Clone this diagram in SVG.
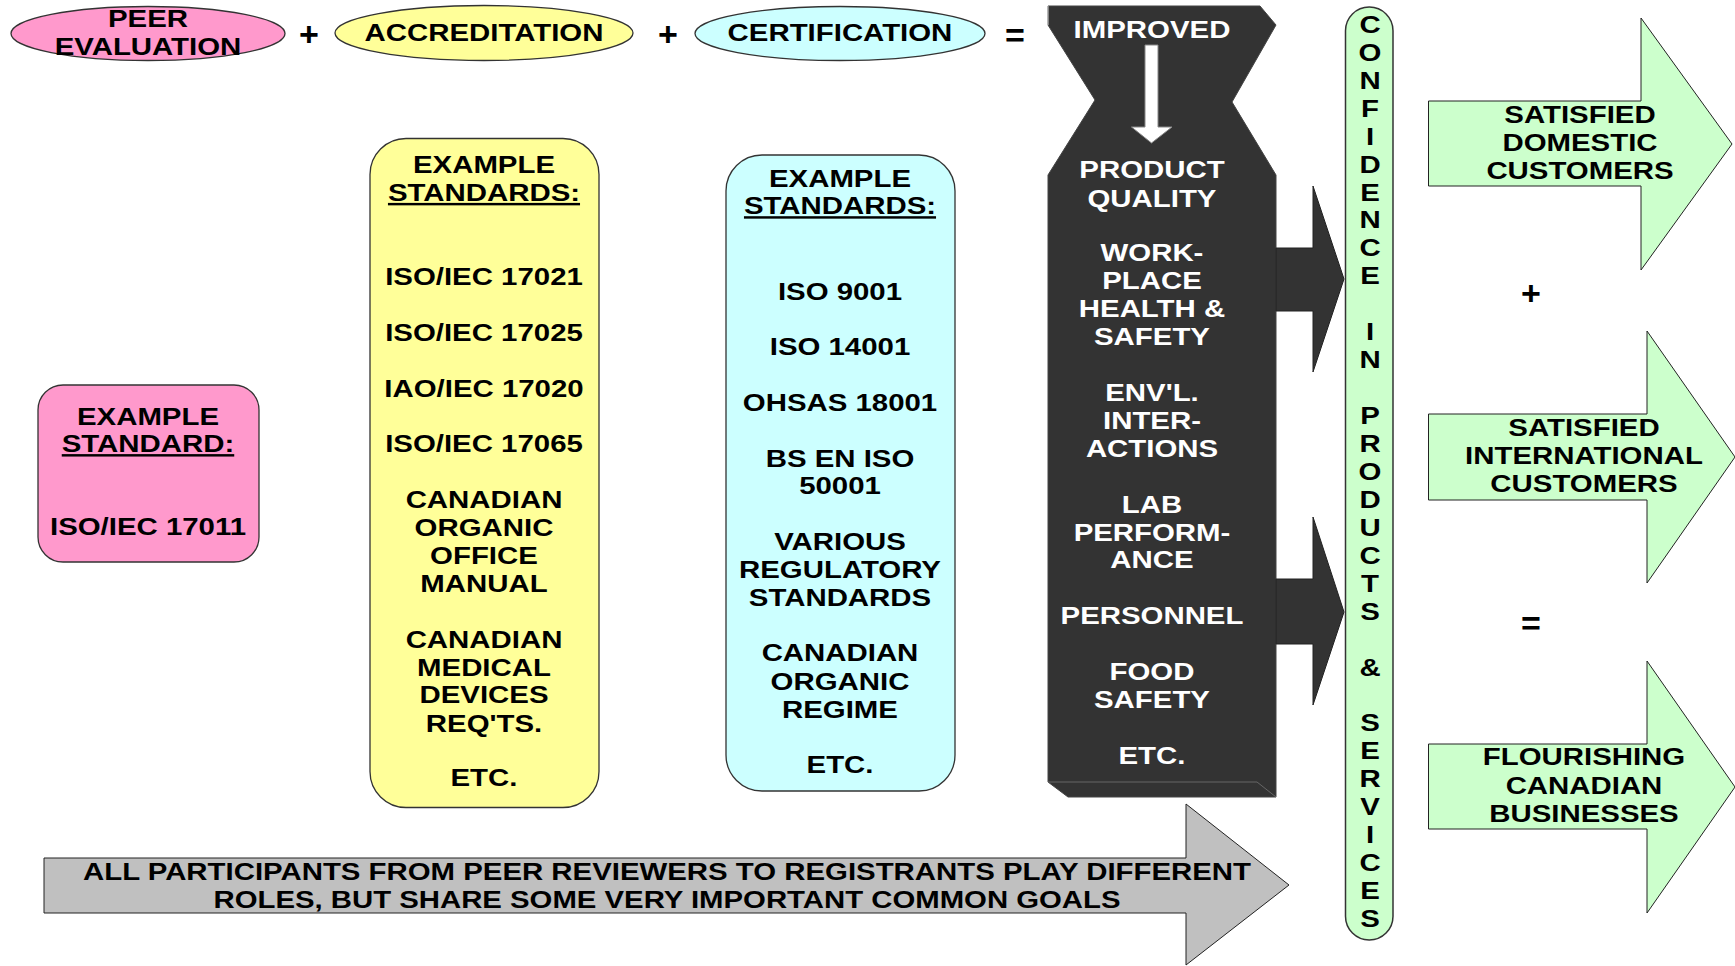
<svg xmlns="http://www.w3.org/2000/svg" width="1735" height="966" viewBox="0 0 1735 966">
<style>
.t{font-family:"Liberation Sans",Arial,sans-serif;font-weight:bold;font-size:24.5px;text-anchor:middle;fill:#000}
.w{fill:#fff}
.u{text-decoration:underline}
.op{font-family:"Liberation Sans",Arial,sans-serif;font-weight:bold;font-size:34px;text-anchor:middle;fill:#000}
.sh{stroke:#333;stroke-width:1.3}
.ar{stroke:#222;stroke-width:1}
</style>
<rect width="1735" height="966" fill="#fff"/>

<g id="peer-evaluation">
<ellipse class="sh" cx="148" cy="33.5" rx="137" ry="27" fill="#ff99cc"/>
<g transform="matrix(1.2 0 0 1 -29.6 0)">
<text class="t" x="148" y="27.4">PEER</text>
<text class="t" x="148" y="55">EVALUATION</text>
</g>
</g>
<text class="op" x="309" y="46">+</text>

<g id="accreditation">
<ellipse class="sh" cx="484" cy="33" rx="149" ry="27.5" fill="#ffff99"/>
<g transform="matrix(1.2 0 0 1 -96.8 0)">
<text class="t" x="484" y="41">ACCREDITATION</text>
</g>
</g>
<text class="op" x="668" y="46">+</text>

<g id="certification">
<ellipse class="sh" cx="840" cy="33.5" rx="145" ry="27" fill="#ccffff"/>
<g transform="matrix(1.2 0 0 1 -168 0)">
<text class="t" x="840" y="41.5">CERTIFICATION</text>
</g>
</g>
<text class="op" x="1015" y="47">=</text>

<g id="example-standard-peer">
<rect class="sh" x="38" y="385" width="221" height="177" rx="25" fill="#ff99cc"/>
<g transform="matrix(1.2 0 0 1 -29.6 0)">
<text class="t" x="148" y="424.6">EXAMPLE</text>
<text class="t u" x="148" y="452.3">STANDARD:</text>
<text class="t" x="148" y="535.3">ISO/IEC 17011</text>
</g>
</g>

<g id="example-standards-accreditation">
<rect class="sh" x="370" y="138.5" width="229" height="669" rx="36" fill="#ffff99"/>
<g transform="matrix(1.2 0 0 1 -96.8 0)">
<text class="t" x="484" y="173.5">EXAMPLE</text>
<text class="t u" x="484" y="201.1">STANDARDS:</text>
<text class="t" x="484" y="285.2">ISO/IEC 17021</text>
<text class="t" x="484" y="340.6">ISO/IEC 17025</text>
<text class="t" x="484" y="397">IAO/IEC 17020</text>
<text class="t" x="484" y="452.3">ISO/IEC 17065</text>
<text class="t" x="484" y="507.6">CANADIAN</text>
<text class="t" x="484" y="536.4">ORGANIC</text>
<text class="t" x="484" y="564.1">OFFICE</text>
<text class="t" x="484" y="591.7">MANUAL</text>
<text class="t" x="484" y="648.2">CANADIAN</text>
<text class="t" x="484" y="675.8">MEDICAL</text>
<text class="t" x="484" y="703.5">DEVICES</text>
<text class="t" x="484" y="732.3">REQ'TS.</text>
<text class="t" x="484" y="786.5">ETC.</text>
</g>
</g>

<g id="example-standards-certification">
<rect class="sh" x="726" y="155" width="229" height="636" rx="36" fill="#ccffff"/>
<g transform="matrix(1.2 0 0 1 -168 0)">
<text class="t" x="840" y="186.7">EXAMPLE</text>
<text class="t u" x="840" y="214.4">STANDARDS:</text>
<text class="t" x="840" y="299.6">ISO 9001</text>
<text class="t" x="840" y="354.9">ISO 14001</text>
<text class="t" x="840" y="411.4">OHSAS 18001</text>
<text class="t" x="840" y="466.6">BS EN ISO</text>
<text class="t" x="840" y="494.4">50001</text>
<text class="t" x="840" y="549.6">VARIOUS</text>
<text class="t" x="840" y="578.4">REGULATORY</text>
<text class="t" x="840" y="606.1">STANDARDS</text>
<text class="t" x="840" y="661.4">CANADIAN</text>
<text class="t" x="840" y="690.2">ORGANIC</text>
<text class="t" x="840" y="717.9">REGIME</text>
<text class="t" x="840" y="773.2">ETC.</text>
</g>
</g>

<g id="improved-block">
<path d="M1048,6 L1260,6 L1276,25 L1232,102 L1276,175 L1276,797 L1068,797 L1048,782 L1048,175 L1095,100 L1048,25 Z" fill="#333" stroke="#444" stroke-width="1"/>
<line x1="1048" y1="6" x2="1048" y2="25" stroke="#ccc" stroke-width="1"/>
<polyline points="1048,782 1257,782 1276,797" fill="none" stroke="#666" stroke-width="1"/>
<path d="M1145,45 L1158,45 L1158,127 L1172,127 L1151.5,143 L1131.5,127 L1145,127 Z" fill="#fff" stroke="#888" stroke-width="1"/>
<g transform="matrix(1.2 0 0 1 -230.4 0)">
<text class="t w" x="1152" y="38.5">IMPROVED</text>
<text class="t w" x="1152" y="178">PRODUCT</text>
<text class="t w" x="1152" y="206.6">QUALITY</text>
<text class="t w" x="1152" y="261">WORK-</text>
<text class="t w" x="1152" y="288.6">PLACE</text>
<text class="t w" x="1152" y="317.3">HEALTH &amp;</text>
<text class="t w" x="1152" y="345">SAFETY</text>
<text class="t w" x="1152" y="401.4">ENV'L.</text>
<text class="t w" x="1152" y="429">INTER-</text>
<text class="t w" x="1152" y="456.7">ACTIONS</text>
<text class="t w" x="1152" y="513.2">LAB</text>
<text class="t w" x="1152" y="540.8">PERFORM-</text>
<text class="t w" x="1152" y="568.5">ANCE</text>
<text class="t w" x="1152" y="623.8">PERSONNEL</text>
<text class="t w" x="1152" y="680.2">FOOD</text>
<text class="t w" x="1152" y="708">SAFETY</text>
<text class="t w" x="1152" y="764.3">ETC.</text>
</g>
</g>

<g id="confidence">
<rect x="1345.5" y="7" width="47.5" height="933" rx="23.7" fill="#ccffcc" stroke="#333" stroke-width="1.5"/>
<g transform="matrix(1.2 0 0 1 -274 0)">
<text class="t" x="1370" y="32.9">C<tspan x="1370" dy="27.94">O</tspan><tspan x="1370" dy="27.94">N</tspan><tspan x="1370" dy="27.94">F</tspan><tspan x="1370" dy="27.94">I</tspan><tspan x="1370" dy="27.94">D</tspan><tspan x="1370" dy="27.94">E</tspan><tspan x="1370" dy="27.94">N</tspan><tspan x="1370" dy="27.94">C</tspan><tspan x="1370" dy="27.94">E</tspan><tspan x="1370" dy="55.88">I</tspan><tspan x="1370" dy="27.94">N</tspan><tspan x="1370" dy="55.88">P</tspan><tspan x="1370" dy="27.94">R</tspan><tspan x="1370" dy="27.94">O</tspan><tspan x="1370" dy="27.94">D</tspan><tspan x="1370" dy="27.94">U</tspan><tspan x="1370" dy="27.94">C</tspan><tspan x="1370" dy="27.94">T</tspan><tspan x="1370" dy="27.94">S</tspan><tspan x="1370" dy="55.88">&amp;</tspan><tspan x="1370" dy="55.88">S</tspan><tspan x="1370" dy="27.94">E</tspan><tspan x="1370" dy="27.94">R</tspan><tspan x="1370" dy="27.94">V</tspan><tspan x="1370" dy="27.94">I</tspan><tspan x="1370" dy="27.94">C</tspan><tspan x="1370" dy="27.94">E</tspan><tspan x="1370" dy="27.94">S</tspan></text>
</g>
</g>

<g id="satisfied-domestic">
<polygon class="ar" points="1428.5,101 1641,101 1641,18 1732,144 1641,270 1641,186 1428.5,186" fill="#ccffcc"/>
<g transform="matrix(1.2 0 0 1 -316 0)">
<text class="t" x="1580" y="122.6">SATISFIED</text>
<text class="t" x="1580" y="151.3">DOMESTIC</text>
<text class="t" x="1580" y="179">CUSTOMERS</text>
</g>
</g>
<text class="op" x="1531" y="305">+</text>

<g id="satisfied-international">
<polygon class="ar" points="1428.5,414 1647,414 1647,331 1735,457 1647,583 1647,500 1428.5,500" fill="#ccffcc"/>
<g transform="matrix(1.2 0 0 1 -316.8 0)">
<text class="t" x="1584" y="435.6">SATISFIED</text>
<text class="t" x="1584" y="464.5">INTERNATIONAL</text>
<text class="t" x="1584" y="492.1">CUSTOMERS</text>
</g>
</g>
<text class="op" x="1531" y="635">=</text>

<g id="flourishing">
<polygon class="ar" points="1428.5,744 1647,744 1647,661 1735,787 1647,913 1647,829 1428.5,829" fill="#ccffcc"/>
<g transform="matrix(1.2 0 0 1 -316.8 0)">
<text class="t" x="1584" y="765.4">FLOURISHING</text>
<text class="t" x="1584" y="794.2">CANADIAN</text>
<text class="t" x="1584" y="821.9">BUSINESSES</text>
</g>
</g>

<g id="common-goals">
<polygon class="ar" points="44,858 1186,858 1186,804 1289,885 1186,965 1186,913 44,913" fill="#c0c0c0"/>
<text class="t" x="667" y="880" font-size="27" textLength="1168" lengthAdjust="spacingAndGlyphs">ALL PARTICIPANTS FROM PEER REVIEWERS TO REGISTRANTS PLAY DIFFERENT</text>
<text class="t" x="667" y="907.5" font-size="27" textLength="907" lengthAdjust="spacingAndGlyphs">ROLES, BUT SHARE SOME VERY IMPORTANT COMMON GOALS</text>
</g>

<g id="connectors">
<polygon points="1276,248 1313,248 1313,186 1344,279 1313,372 1313,311 1276,311" fill="#333" stroke="#222" stroke-width="1"/>
<polygon points="1276,579 1313,579 1313,517 1344,612 1313,705 1313,644 1276,644" fill="#333" stroke="#222" stroke-width="1"/>
</g>
</svg>
